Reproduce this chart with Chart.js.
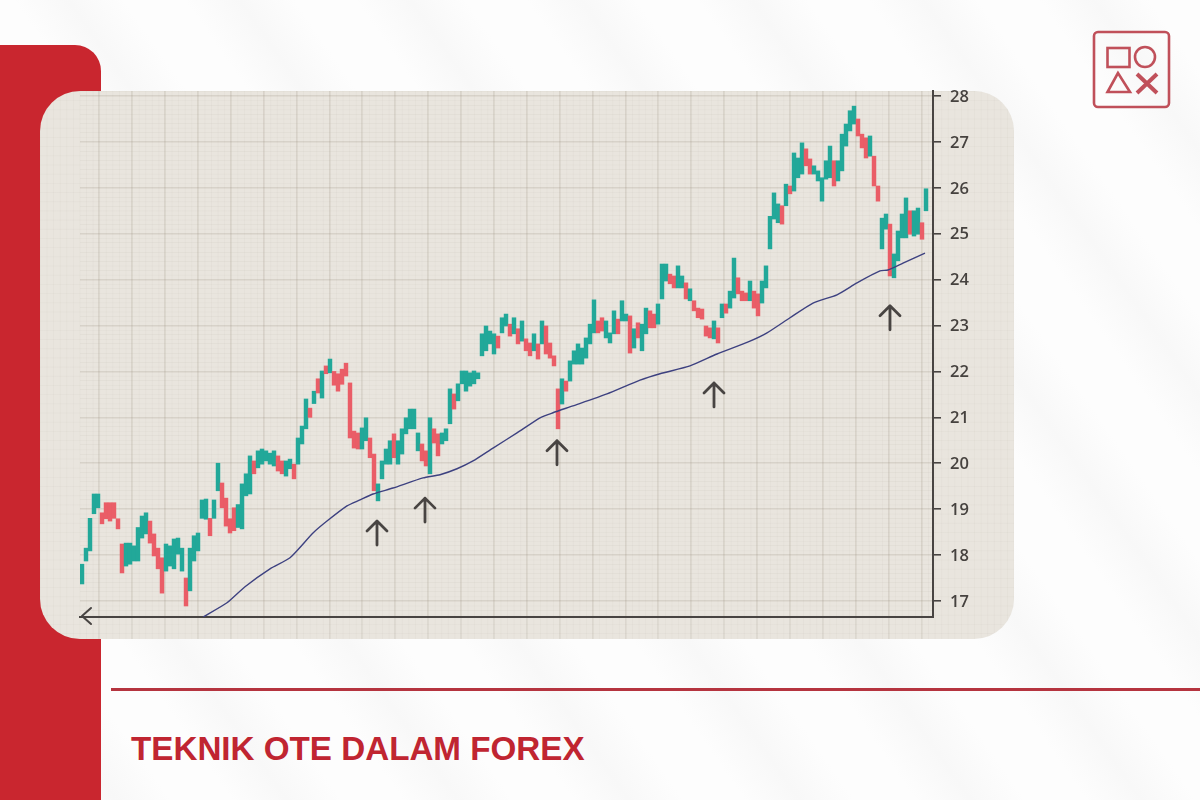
<!DOCTYPE html>
<html>
<head>
<meta charset="utf-8">
<title>Teknik OTE dalam Forex</title>
<script src="https://cdn.jsdelivr.net/npm/chart.js@4"></script>
<style>
    html, body { margin: 0; padding: 0; }
    body {
        position: relative;
        width: 1200px;
        height: 800px;
        overflow: hidden;
        background: repeating-linear-gradient(55deg, #fdfdfd 0, #fdfdfd 50px, #f8f8f8 95px, #fdfdfd 140px);
    }
    #sidebar { position: absolute; left: 0; top: 45px; width: 101px; height: 755px; background: #c9262f; border-radius: 0 26px 0 0; }
    #panel {
        position: absolute; left: 40px; top: 91px; width: 974px; height: 548px; border-radius: 40px;
        background-color: #e9e5de;
        background-image:
            linear-gradient(to right, rgba(150, 140, 125, .05) 1px, transparent 1px),
            linear-gradient(to bottom, rgba(150, 140, 125, .05) 1px, transparent 1px);
        background-size: 6.58px 9.2px;
    }
    #rule { position: absolute; left: 111px; top: 688px; width: 1089px; height: 3px; background: #b5343f; }
    #title {
        position: absolute; left: 131px; top: 730px; margin: 0;
        font: bold 33.2px "Liberation Sans", sans-serif; line-height: 38px; color: #c02531;
    }
    #logo { position: absolute; left: 1090px; top: 28px; }
    canvas { position: absolute; left: 0; top: 0; }
</style>
</head>
<body>
<div id="sidebar"></div>
<div id="panel"></div>
<div id="rule"></div>
<h1 id="title">TEKNIK OTE DALAM FOREX</h1>
<svg id="logo" width="84" height="84" fill="none" stroke="#c0505a">
    <rect x="4" y="4" width="75" height="75" rx="4" stroke-width="2.6"/>
    <rect x="17.5" y="20" width="22" height="19" stroke-width="2.6"/>
    <circle cx="55" cy="29" r="10" stroke-width="2.6"/>
    <path d="M28 45 L17.5 64 L40 64 Z" stroke-width="2.6"/>
    <path d="M47 46 L67 65 M67 46 L47 65" stroke-width="4"/>
</svg>
<canvas id="chart" width="1200" height="800"></canvas>
<script>
// candle ranges, one candle every 4px from the left of the plot
const lows = [
    17.37, 17.87, 18.09, 18.9, 19.03, 18.68, 18.79, 18.74, 18.8, 18.57, 17.61, 17.76, 17.8, 17.87, 17.87, 18.37, 18.46, 18.26, 17.98, 17.7,
    17.17, 17.65, 17.76, 17.7, 18.02, 17.65, 16.89, 17.22, 17.87, 18.09, 18.8, 18.78, 18.42, 18.8, 19.4, 19.03, 18.63, 18.48, 18.53, 18.6,
    18.57, 19.29, 19.33, 19.77, 19.9, 19.98, 20.05, 19.98, 19.94, 19.83, 19.77, 19.72, 19.88, 19.66, 19.98, 20.42, 20.75, 21, 21.3, 21.53,
    21.42, 21.95, 21.97, 21.7, 21.57, 21.72, 21.9, 20.55, 20.33, 20.31, 20.31, 20.49, 20.12, 19.4, 19.18, 19.66, 19.98, 19.98, 20.12, 19.98,
    20.2, 20.64, 20.75, 20.75, 20.27, 20.05, 19.94, 19.77, 20.44, 20.16, 20.42, 20.49, 20.86, 21.18, 21.36, 21.73, 21.57, 21.68, 21.73, 21.84,
    22.34, 22.45, 22.6, 22.38, 22.51, 22.84, 22.99, 22.77, 22.82, 22.6, 22.66, 22.45, 22.34, 22.45, 22.27, 22.6, 22.38, 22.29, 22.12, 20.75,
    21.29, 21.57, 21.79, 22.16, 22.16, 22.16, 22.29, 22.6, 22.84, 22.84, 22.88, 22.73, 22.62, 22.82, 22.82, 23.1, 23.1, 22.4, 22.51, 22.73,
    22.45, 22.82, 22.95, 22.95, 23.03, 23.58, 23.97, 23.91, 23.82, 23.82, 23.82, 23.58, 23.54, 23.32, 23.17, 23.14, 22.77, 22.73, 22.71, 22.62,
    23.17, 23.27, 23.38, 23.6, 23.69, 23.54, 23.54, 23.54, 23.38, 23.21, 23.49, 23.82, 24.67, 25.32, 25.24, 25.21, 25.61, 25.87, 25.93, 26.22,
    26.3, 26.48, 26.3, 26.3, 26.15, 25.71, 26.19, 26.22, 26.04, 26.15, 26.37, 26.91, 27.24, 27.39, 27.13, 26.87, 26.65, 26.69, 26.04, 25.71,
    24.67, 25.1, 24.08, 24.04, 24.41, 24.91, 24.91, 24.99, 24.95, 24.99, 24.88, 25.5
];
const highs = [
    17.8, 18.15, 18.8, 19.33, 19.33, 18.92, 19.14, 19.14, 19.14, 18.79, 18.24, 18.26, 18.26, 18.2, 18.6, 18.85, 18.92, 18.74, 18.46, 18.15,
    17.94, 18.24, 18.2, 18.35, 18.37, 18.15, 17.5, 18.15, 18.42, 18.48, 19.2, 19.22, 18.8, 19.2, 20.0, 19.57, 19.24, 18.79, 19.03, 19.1,
    19.55, 19.77, 20.16, 20.05, 20.27, 20.31, 20.27, 20.22, 20.27, 20.16, 20.05, 20.05, 20.09, 19.98, 20.55, 20.81, 21.4, 21.2, 21.57, 21.84,
    22.01, 22.12, 22.27, 22.0, 21.95, 22.05, 22.18, 21.75, 20.7, 20.66, 20.77, 20.99, 20.55, 20.2, 19.55, 20.05, 20.31, 20.49, 20.64, 20.49,
    20.75, 20.99, 21.18, 21.18, 20.66, 20.42, 20.27, 20.99, 20.75, 20.64, 20.66, 20.75, 21.62, 21.51, 21.73, 22.01, 22.01, 21.97, 22.01, 21.97,
    22.82, 22.99, 22.88, 22.82, 22.77, 23.17, 23.25, 23.03, 23.17, 22.93, 23.1, 22.71, 22.62, 22.82, 22.6, 23.1, 22.99, 22.62, 22.34, 21.62,
    21.84, 21.79, 22.23, 22.45, 22.6, 22.51, 22.73, 23.03, 23.56, 23.1, 23.17, 23.1, 22.84, 23.32, 23.14, 23.54, 23.25, 23.21, 22.93, 23.06,
    23.03, 23.38, 23.32, 23.25, 23.47, 24.34, 24.34, 24.12, 24.08, 24.3, 24.08, 23.93, 23.8, 23.54, 23.38, 23.36, 22.99, 22.95, 23.1, 22.95,
    23.47, 23.47, 23.75, 24.47, 24.04, 23.75, 23.71, 23.97, 23.75, 23.69, 23.97, 24.3, 25.38, 25.89, 25.65, 25.61, 26.08, 26.04, 26.76, 26.65,
    26.98, 26.85, 26.63, 26.48, 26.37, 26.22, 26.59, 26.91, 26.59, 26.59, 27.17, 27.39, 27.68, 27.78, 27.5, 27.17, 27.09, 27.13, 26.69, 26.04,
    25.34, 25.43, 25.21, 24.56, 25.06, 25.43, 25.78, 25.5, 25.5, 25.56, 25.24, 25.98
];
// 1 = rising candle, 0 = falling candle
const rising = [
    1, 1, 1, 1, 1, 0, 0, 0, 0, 0, 0, 1, 1, 1, 1, 1, 1, 0, 0, 0,
    0, 1, 1, 1, 1, 1, 0, 1, 1, 1, 1, 1, 0, 1, 1, 0, 0, 0, 0, 1,
    1, 1, 1, 0, 1, 1, 1, 1, 1, 0, 0, 1, 1, 0, 1, 1, 1, 0, 1, 0,
    1, 0, 1, 0, 0, 0, 0, 0, 0, 0, 1, 1, 0, 0, 1, 1, 1, 1, 0, 1,
    1, 1, 1, 1, 1, 0, 0, 1, 0, 0, 1, 1, 1, 0, 1, 1, 1, 1, 1, 1,
    1, 1, 1, 1, 0, 1, 1, 0, 1, 0, 1, 0, 0, 1, 0, 1, 0, 0, 0, 0,
    1, 0, 1, 1, 1, 1, 1, 1, 1, 0, 0, 1, 1, 1, 0, 1, 1, 0, 1, 0,
    1, 1, 0, 0, 1, 1, 1, 0, 0, 1, 1, 0, 1, 0, 0, 0, 0, 0, 1, 0,
    1, 0, 1, 1, 0, 0, 0, 1, 0, 0, 1, 1, 1, 1, 1, 0, 1, 0, 1, 1,
    1, 0, 0, 1, 1, 1, 1, 1, 0, 1, 1, 1, 1, 1, 0, 0, 0, 1, 0, 0,
    1, 1, 0, 1, 1, 1, 1, 0, 1, 1, 0, 1
];
// moving average, positions along the same candle index
const avgPos = [30.25, 36.25, 40.75, 47, 52, 57.75, 61.25, 66.25, 69.5, 72.75, 77.75, 85.25, 89.5, 93.75, 97.75, 102.75, 108.75, 114.5,
    117.75, 122.75, 131.25, 139.5, 144.5, 152, 158.75, 167, 171.25, 177, 182.75, 188.75, 193.75, 199.5, 201.5, 205.25, 210.75];
const avgValues = [16.65, 16.96, 17.31, 17.7, 17.94, 18.48, 18.74, 19.07, 19.2, 19.33, 19.46, 19.68, 19.75, 19.88, 20.05, 20.33, 20.66, 20.99,
    21.1, 21.25, 21.51, 21.81, 21.95, 22.12, 22.38, 22.66, 22.84, 23.17, 23.49, 23.67, 23.93, 24.19, 24.21, 24.36, 24.58];
// touch points marked with an arrow
const arrowPos = [73.75, 85.75, 118.75, 158, 202];
const arrowTips = [18.74, 19.24, 20.49, 21.75, 23.43];
const priceLabels = [17, 18, 19, 20, 21, 22, 23, 24, 25, 26, 27, 28];

const GREEN = '#22a899';
const RED = '#ea5d67';
const AXIS = '#484442';

const gridXs = [];
for (let v = 4.25; v < 212; v += 8.225) gridXs.push(v);

// up arrows under the touches, plus the arrowhead on the time axis
const arrows = {
    id: 'arrows',
    afterDatasetsDraw(chart) {
        const { ctx, scales: { x, y } } = chart;
        ctx.save();
        ctx.strokeStyle = AXIS;
        ctx.lineWidth = 2.8;
        ctx.lineCap = 'round';
        ctx.lineJoin = 'round';
        arrowPos.forEach((p, i) => {
            const px = x.getPixelForValue(p);
            const py = y.getPixelForValue(arrowTips[i]);
            ctx.beginPath();
            ctx.moveTo(px, py + 24);
            ctx.lineTo(px, py);
            ctx.moveTo(px - 10, py + 10);
            ctx.lineTo(px, py);
            ctx.lineTo(px + 10, py + 10);
            ctx.stroke();
        });
        ctx.lineWidth = 2;
        ctx.beginPath();
        ctx.moveTo(91, 608);
        ctx.lineTo(82, 616);
        ctx.lineTo(91, 624);
        ctx.stroke();
        ctx.restore();
    }
};

new Chart(document.getElementById('chart'), {
    data: {
        datasets: [{
            type: 'bar',
            data: lows.map((l, i) => ({ x: i, y: [l, highs[i]] })),
            backgroundColor: rising.map(r => r ? GREEN : RED),
            barThickness: 3.8,
            order: 2
        }, {
            type: 'line',
            data: avgPos.map((p, i) => ({ x: p, y: avgValues[i] })),
            borderColor: '#3d4180',
            borderWidth: 1.4,
            pointRadius: 0,
            tension: 0.2,
            order: 1
        }]
    },
    plugins: [arrows],
    options: {
        responsive: false,
        animation: false,
        layout: { padding: { left: 80, top: 91, right: 0, bottom: 0 } },
        plugins: { legend: { display: false }, tooltip: { enabled: false } },
        scales: {
            x: {
                type: 'linear',
                offset: false,
                min: -0.5,
                max: 212.75,
                afterBuildTicks(s) { s.ticks = gridXs.map(v => ({ value: v })); },
                afterFit(s) { s.height = 183; },
                ticks: { display: false },
                border: { color: AXIS, width: 2 },
                grid: { offset: false, lineWidth: 1.6, color: 'rgba(140, 128, 112, .17)', tickColor: 'rgba(140, 128, 112, .12)', tickLength: 22 }
            },
            y: {
                position: 'right',
                min: 16.65,
                max: 28.11,
                afterFit(s) { s.width = 267; },
                ticks: {
                    stepSize: 0.2,
                    includeBounds: false,
                    autoSkip: false,
                    padding: 9,
                    labelOffset: 1,
                    color: '#46423f',
                    font: { family: '"Open Sans"', size: 16.5, weight: '600' },
                    callback: v => {
                        const n = Math.round(v);
                        return Math.abs(v - n) < 1e-6 && priceLabels.includes(n) ? String(n) : '';
                    }
                },
                border: { color: AXIS, width: 2 },
                grid: {
                    tickLength: 8,
                    lineWidth: c => Number.isInteger(Math.round(c.tick.value * 1e6) / 1e6) ? 1.6 : 1,
                    color: c => Number.isInteger(Math.round(c.tick.value * 1e6) / 1e6) ? 'rgba(140, 128, 112, .19)' : 'rgba(140, 128, 112, .06)',
                    tickColor: c => Number.isInteger(Math.round(c.tick.value * 1e6) / 1e6) ? AXIS : 'transparent'
                }
            }
        }
    }
});
</script>
</body>
</html>
